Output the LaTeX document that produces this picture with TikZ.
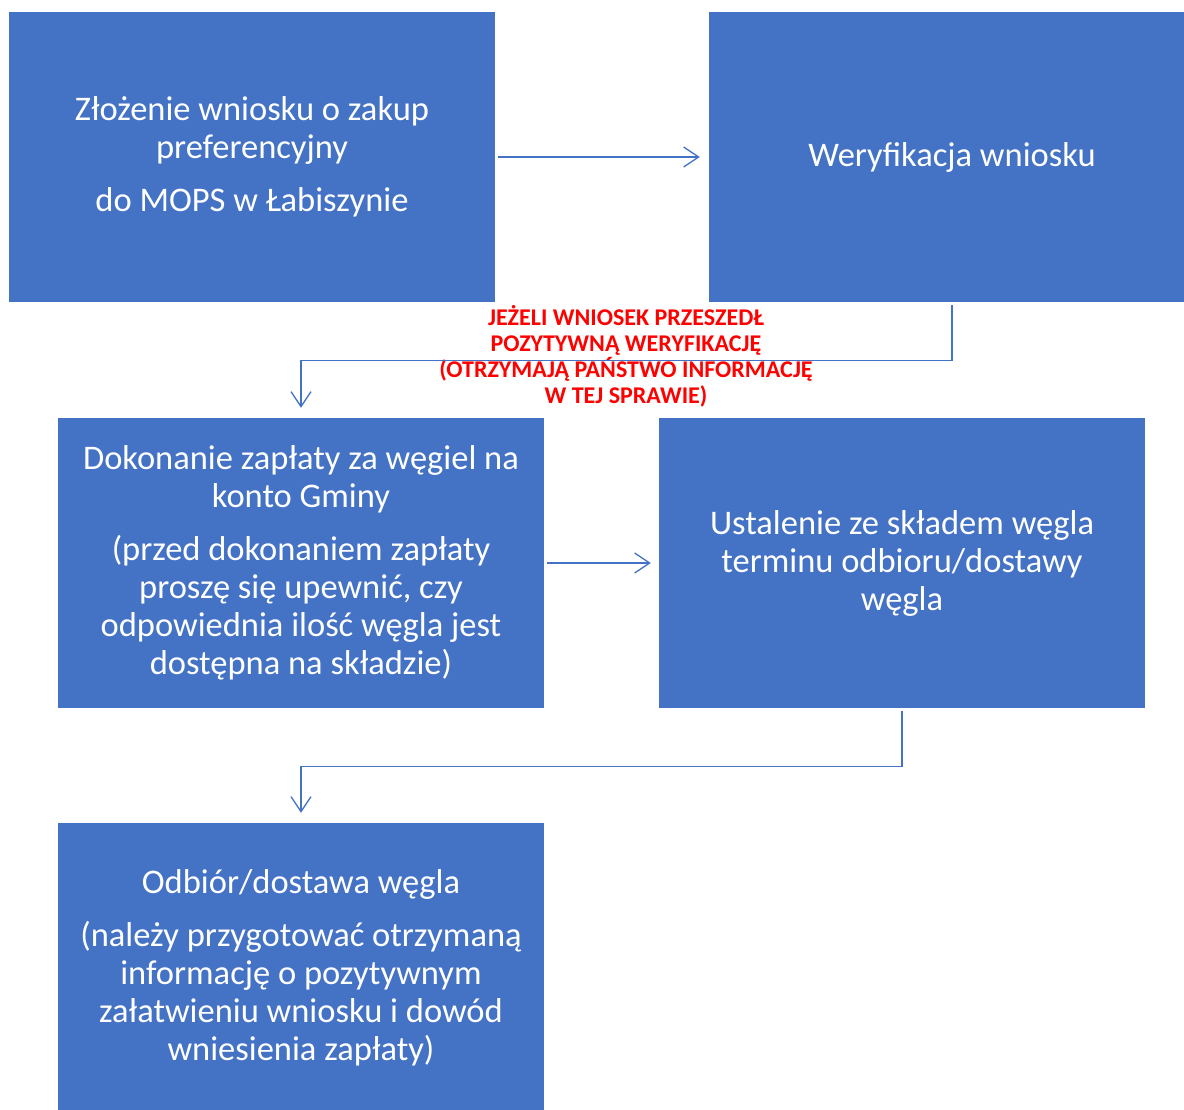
\documentclass[tikz,border=0pt]{standalone}
\usepackage{fontspec}
\setmainfont{Carlito}
\usetikzlibrary{arrows.meta}
\definecolor{boxblue}{HTML}{4472C4}
\definecolor{notered}{HTML}{FF0000}
\begin{document}
\begin{tikzpicture}[x=1pt,y=-1pt,
  stepbox/.style={fill=boxblue, draw=none, text=white, minimum width=486pt, minimum height=290pt,
    align=center, inner sep=0pt, font=\fontsize{34.5}{38}\selectfont},
  conn/.style={draw=boxblue, line width=1.3pt, line join=miter,
    -{Straight Barb[length=15pt,width=20pt,line width=1.3pt]}},
  note/.style={text=notered, align=center, inner sep=0pt, font=\fontsize{24}{26}\selectfont\bfseries}]
\useasboundingbox (0,0) rectangle (1184,1109);
\fill[white] (0,0) rectangle (1184,1109);

\node[stepbox] (b1) at (252,157) {Złożenie wniosku o zakup\\ preferencyjny\\[15pt] do MOPS w Łabiszynie};
\node[stepbox] (b2) at (952,157) {Weryfikacja wniosku};
\node[stepbox] (b3) at (301,563) {Dokonanie zapłaty za węgiel na\\ konto Gminy\\[15pt] (przed dokonaniem zapłaty\\ proszę się upewnić, czy\\ odpowiednia ilość węgla jest\\ dostępna na składzie)};
\node[stepbox] (b4) at (902,563) {Ustalenie ze składem węgla\\ terminu odbioru/dostawy\\ węgla};
\node[stepbox] (b5) at (301,968) {Odbiór/dostawa węgla\\[15pt] (należy przygotować otrzymaną\\ informację o pozytywnym\\ załatwieniu wniosku i dowód\\ wniesienia zapłaty)};

\node[note] (n1) at (626,356) {JEŻELI WNIOSEK PRZESZEDŁ\\ POZYTYWNĄ WERYFIKACJĘ\\ (OTRZYMAJĄ PAŃSTWO INFORMACJĘ\\ W TEJ SPRAWIE)};

\draw[conn] ([xshift=3pt]b1.east) -- ([xshift=-9pt]b2.west);
\draw[conn] ([yshift=-3pt]b2.south) -- ++(0,55) -| ([yshift=10pt]b3.north);
\draw[conn] ([xshift=3pt]b3.east) -- ([xshift=-8pt]b4.west);
\draw[conn] ([yshift=-3pt]b4.south) -- ++(0,55) -| ([yshift=10pt]b5.north);
\end{tikzpicture}
\end{document}
